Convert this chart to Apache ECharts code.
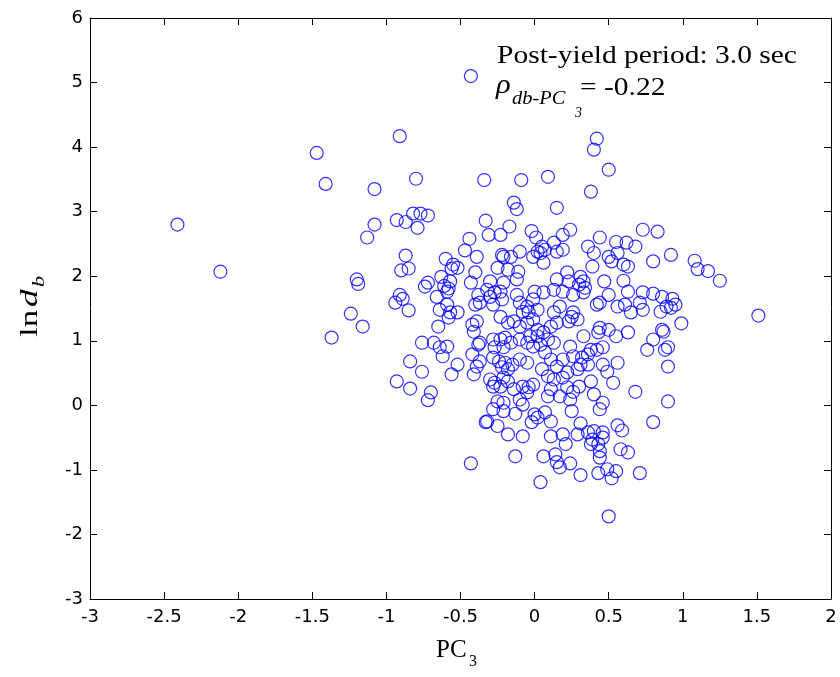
<!DOCTYPE html>
<html>
<head>
<meta charset="utf-8">
<script src="https://cdn.jsdelivr.net/npm/echarts@6/dist/echarts.min.js"></script>
<style>
  html, body { margin: 0; padding: 0; background: #fff; }
  #chart { width: 840px; height: 677px; }
</style>
</head>
<body>
<div id="chart"></div>
<script>
// Axis ranges and ticks
const xTicks = { min: -3, max: 2, step: 0.5 };
const yTicks = { min: -3, max: 6, step: 1 };

// Annotation text
const periodLabel = 'Post-yield period: 3.0 sec';
const rhoValue = '= -0.22';

// Samples: [PC3, ln d_b]
const samples = [
  [-2.41,2.80],[-2.12,2.07],[-1.47,3.91],[-1.41,3.43],[-1.37,1.05],[-1.24,1.42],[-1.20,1.95],[-1.19,1.88],
  [-1.16,1.22],[-1.13,2.60],[-1.08,2.80],[-1.08,3.35],[-0.91,4.17],[-0.80,3.51],[-0.43,5.10],[-0.34,3.49],
  [-0.09,3.49],[0.09,3.54],[0.42,4.13],[0.40,3.96],[0.50,3.65],[0.38,3.31],[-0.14,3.14],[-0.12,3.04],[0.15,3.06],
  [-0.82,2.97],[-0.77,2.97],[-0.72,2.94],[-0.93,2.87],[-0.87,2.84],[-0.79,2.75],[-0.87,2.32],[-0.90,2.09],
  [-0.85,2.12],[-0.44,2.58],[-0.47,2.40],[-0.60,2.27],[-0.39,2.30],[-0.55,2.18],[-0.52,2.13],[-0.56,2.12],
  [-0.43,1.90],[-0.40,2.06],[-0.72,1.90],[-0.74,1.84],[-0.63,1.99],[-0.61,1.85],[-0.57,1.92],[-0.58,1.81],
  [-0.59,1.76],[-0.91,1.71],[-0.89,1.65],[-0.66,1.68],
  [-0.33,2.86],[-0.17,2.77],[-0.31,2.64],[-0.23,2.64],[-0.02,2.70],[0.01,2.60],[0.24,2.72],[0.19,2.64],
  [0.73,2.72],[0.83,2.69],[0.44,2.60],[0.55,2.53],[0.62,2.52],[0.68,2.46],[0.36,2.46],[0.40,2.36],
  [0.05,2.46],[0.07,2.41],[0.02,2.38],[-0.01,2.30],[0.04,2.36],[0.06,2.21],[0.13,2.52],[0.19,2.41],
  [0.15,2.38],[-0.10,2.38],[-0.21,2.30],[-0.16,2.30],[-0.22,2.33],[0.92,2.33],[0.50,2.30],[0.56,2.36],
  [0.52,2.23],[0.60,2.18],[0.63,2.15],[0.80,2.23],[0.39,2.15],[-0.25,2.13],[-0.18,2.10],[-0.11,2.07],
  [-0.12,1.95],[0.15,1.95],[0.22,2.06],[0.23,1.92],[0.31,1.99],[0.33,1.92],[0.30,1.87],[0.34,1.82],
  [0.47,1.92],[0.60,1.93],[-0.30,1.92],[-0.21,1.90],[-0.32,1.79],[-0.27,1.75],[-0.23,1.76],[0.00,1.76],
  [0.06,1.75],[0.13,1.79],[0.50,1.71],[0.63,1.76],[0.73,1.75],[0.80,1.73],[0.93,1.65],
  [1.08,2.24],[1.10,2.11],[1.17,2.08],[1.25,1.93],[1.51,1.39],[0.86,1.68],[0.89,1.53],[0.95,1.56],
  [0.92,1.51],[0.85,1.45],[0.71,1.59],[0.73,1.48],[0.99,1.27],[0.86,1.17],[0.87,1.14],[0.80,1.02],
  [0.76,0.86],[0.88,0.86],[0.90,0.90],[0.90,0.60],[0.63,1.13],[0.55,1.07],[0.50,1.17],[0.44,1.20],
  [0.43,1.13],[0.33,1.07],
  [0.42,1.56],[0.44,1.59],[0.56,1.53],[0.61,1.56],[0.65,1.44],[0.26,1.44],[0.25,1.37],[0.29,1.33],
  [0.23,1.30],[0.17,1.53],[0.13,1.44],[0.15,1.28],[0.11,1.22],[0.33,1.75],[0.26,1.71],[0.19,1.76],
  [0.38,0.86],[0.42,0.86],[0.46,0.90],[0.36,0.79],[0.32,0.74],[0.31,0.63],[0.36,0.63],[0.46,0.63],
  [0.49,0.52],[0.56,0.66],[0.53,0.35],[0.68,0.21],[0.90,0.06],[0.38,0.37],[0.30,0.29],[0.40,0.17],
  [0.46,0.04],[0.19,0.43],[0.13,0.40],[0.22,0.28],[0.17,0.14],[0.24,0.09],[0.26,0.21],[0.11,0.25],
  [0.09,0.14],[0.06,1.13],[0.09,1.02],[0.04,0.94],[0.13,0.97],[0.07,0.82],[0.11,0.71],[0.15,0.60],
  [0.05,0.56],[0.09,0.45],[0.24,0.91],[0.26,0.76],[0.19,0.71],[0.22,0.51],[0.29,0.56],
  [-0.94,1.59],[-0.85,1.47],[-0.59,1.56],[-0.64,1.48],[-0.57,1.44],[-0.52,1.44],[-0.58,1.36],[-0.65,1.22],
  [-0.76,0.97],[-0.68,0.97],[-0.64,0.90],[-0.59,0.91],[-0.62,0.76],[-0.84,0.68],[-0.76,0.52],[-0.93,0.37],
  [-0.84,0.26],[-0.70,0.20],[-0.72,0.08],[-0.52,0.63],[-0.56,0.48],[-0.42,0.79],[-0.39,0.60],[-0.41,0.48],
  [-0.42,1.25],[-0.41,1.14],[-0.39,1.30],[-0.38,0.94],[-0.30,1.68],[-0.22,1.64],[-0.28,1.56],[-0.37,1.59],
  [-0.38,1.71],[-0.12,1.71],[-0.10,1.59],[-0.05,1.53],[-0.01,1.64],[0.02,1.48],[-0.04,1.44],[-0.08,1.45],
  [-0.23,1.37],[-0.18,1.28],[-0.14,1.30],[-0.10,1.22],[-0.05,1.28],[-0.01,1.33],[0.02,1.17],[-0.28,1.02],
  [-0.23,1.02],[-0.20,1.05],[-0.16,0.97],[-0.21,0.90],[-0.27,0.90],[-0.10,1.02],[-0.05,0.97],[-0.01,0.91],
  [0.02,1.07],[-0.03,1.07],[-0.28,0.74],[-0.24,0.68],[-0.20,0.66],[-0.22,0.59],[-0.18,0.56],[-0.15,0.63],
  [-0.10,0.71],[-0.05,0.66],[-0.30,0.40],[-0.27,0.35],[-0.21,0.43],[-0.18,0.37],[-0.23,0.29],[-0.28,0.29],
  [-0.14,0.25],[-0.08,0.29],[-0.04,0.28],[-0.01,0.32],[-0.05,0.20],[-0.25,0.06],[-0.21,0.04],[-0.10,0.09],
  [-0.08,0.01],[-0.37,0.68],[-0.37,0.97],[-0.40,1.56],
  [-0.33,-0.26],[-0.32,-0.25],[-0.25,-0.32],[-0.18,-0.45],[-0.08,-0.48],[-0.02,-0.26],[-0.13,-0.13],
  [-0.21,-0.09],[-0.28,-0.06],[0.00,-0.14],[0.02,-0.19],[-0.13,-0.79],[-0.43,-0.90],[0.06,-0.79],[0.04,-1.19],
  [0.80,-0.26],[0.56,-0.31],[0.59,-0.39],[0.31,-0.28],[0.25,-0.09],[0.44,-0.06],[0.11,-0.25],[0.07,-0.11],
  [0.11,-0.48],[0.19,-0.45],[0.21,-0.60],[0.29,-0.45],[0.36,-0.42],[0.40,-0.40],[0.46,-0.42],[0.46,-0.50],
  [0.38,-0.60],[0.43,-0.60],[0.44,-0.71],[0.44,-0.81],[0.58,-0.68],[0.63,-0.73],[0.14,-0.76],[0.15,-0.88],
  [0.17,-0.96],[0.24,-0.90],[0.31,-1.08],[0.43,-1.05],[0.49,-0.99],[0.55,-1.02],[0.52,-1.13],[0.71,-1.05],
  [0.50,-1.72],[0.39,-0.53]
];

const SANS = '"DejaVu Sans", "Liberation Sans", Arial, sans-serif';
const SERIF = '"Liberation Serif", "Times New Roman", serif';
const INK = '#000';
const TEXT_WIDEN = 1.135;

function valueAxis(range, extra) {
  return Object.assign({
    type: 'value',
    min: range.min,
    max: range.max,
    interval: range.step,
    axisLine: { show: true, onZero: false, lineStyle: { color: INK, width: 1 } },
    axisTick: { show: true, inside: true, length: 7, lineStyle: { color: INK, width: 1 } },
    splitLine: { show: false },
    axisLabel: { show: true, color: INK, fontFamily: SANS, fontSize: 18 }
  }, extra);
}

const chart = echarts.init(document.getElementById('chart'), null, { renderer: 'canvas' });

chart.setOption({
  animation: false,
  backgroundColor: '#fff',
  grid: { left: 90, right: 9, top: 18, bottom: 78, containLabel: false },
  xAxis: [
    valueAxis(xTicks, { position: 'bottom', axisLabel: { color: INK, fontFamily: SANS, fontSize: 18, margin: 9 } }),
    valueAxis(xTicks, { position: 'top', axisLabel: { show: false } })
  ],
  yAxis: [
    valueAxis(yTicks, { position: 'left', axisLabel: { color: INK, fontFamily: SANS, fontSize: 18, margin: 7 } }),
    valueAxis(yTicks, { position: 'right', axisLabel: { show: false } })
  ],
  series: [{
    type: 'scatter',
    xAxisIndex: 0,
    yAxisIndex: 0,
    symbol: 'circle',
    symbolSize: 13,
    itemStyle: { color: 'rgba(0,0,0,0)', borderColor: '#0000ff', borderWidth: 1.2 },
    emphasis: { disabled: true },
    data: samples
  }],
  graphic: [
    { type: 'text', x: 497, y: 43, scaleX: TEXT_WIDEN,
      style: { text: periodLabel, font: '26px ' + SERIF, fill: INK } },
    // correlation: rho with nested subscripts
    { type: 'text', x: 496, y: 72, scaleX: TEXT_WIDEN,
      style: { text: 'ρ', font: 'italic 27px ' + SERIF, fill: INK } },
    { type: 'text', x: 512, y: 90, scaleX: TEXT_WIDEN,
      style: { text: 'db-PC', font: 'italic 18px ' + SERIF, fill: INK } },
    { type: 'text', x: 575, y: 106,
      style: { text: '3', font: 'italic 14px ' + SERIF, fill: INK } },
    { type: 'text', x: 580, y: 75, scaleX: TEXT_WIDEN,
      style: { text: rhoValue, font: '26px ' + SERIF, fill: INK } },
    // x-axis title
    { type: 'text', x: 436, y: 638,
      style: { text: 'PC', font: '25px ' + SERIF, fill: INK } },
    { type: 'text', x: 469, y: 654,
      style: { text: '3', font: '16px ' + SERIF, fill: INK } },
    // y-axis title, rotated
    { type: 'group', x: 17, y: 337, rotation: Math.PI / 2,
      children: [
        { type: 'text', x: 0, y: 0, scaleX: 1.35, style: { text: 'ln', font: '26px ' + SERIF, fill: INK } },
        { type: 'text', x: 30, y: 0, scaleX: 1.35, style: { text: 'd', font: 'italic 26px ' + SERIF, fill: INK } },
        { type: 'text', x: 50, y: 14, scaleX: 1.3, style: { text: 'b', font: 'italic 17px ' + SERIF, fill: INK } }
      ]
    }
  ]
});
</script>
</body>
</html>
